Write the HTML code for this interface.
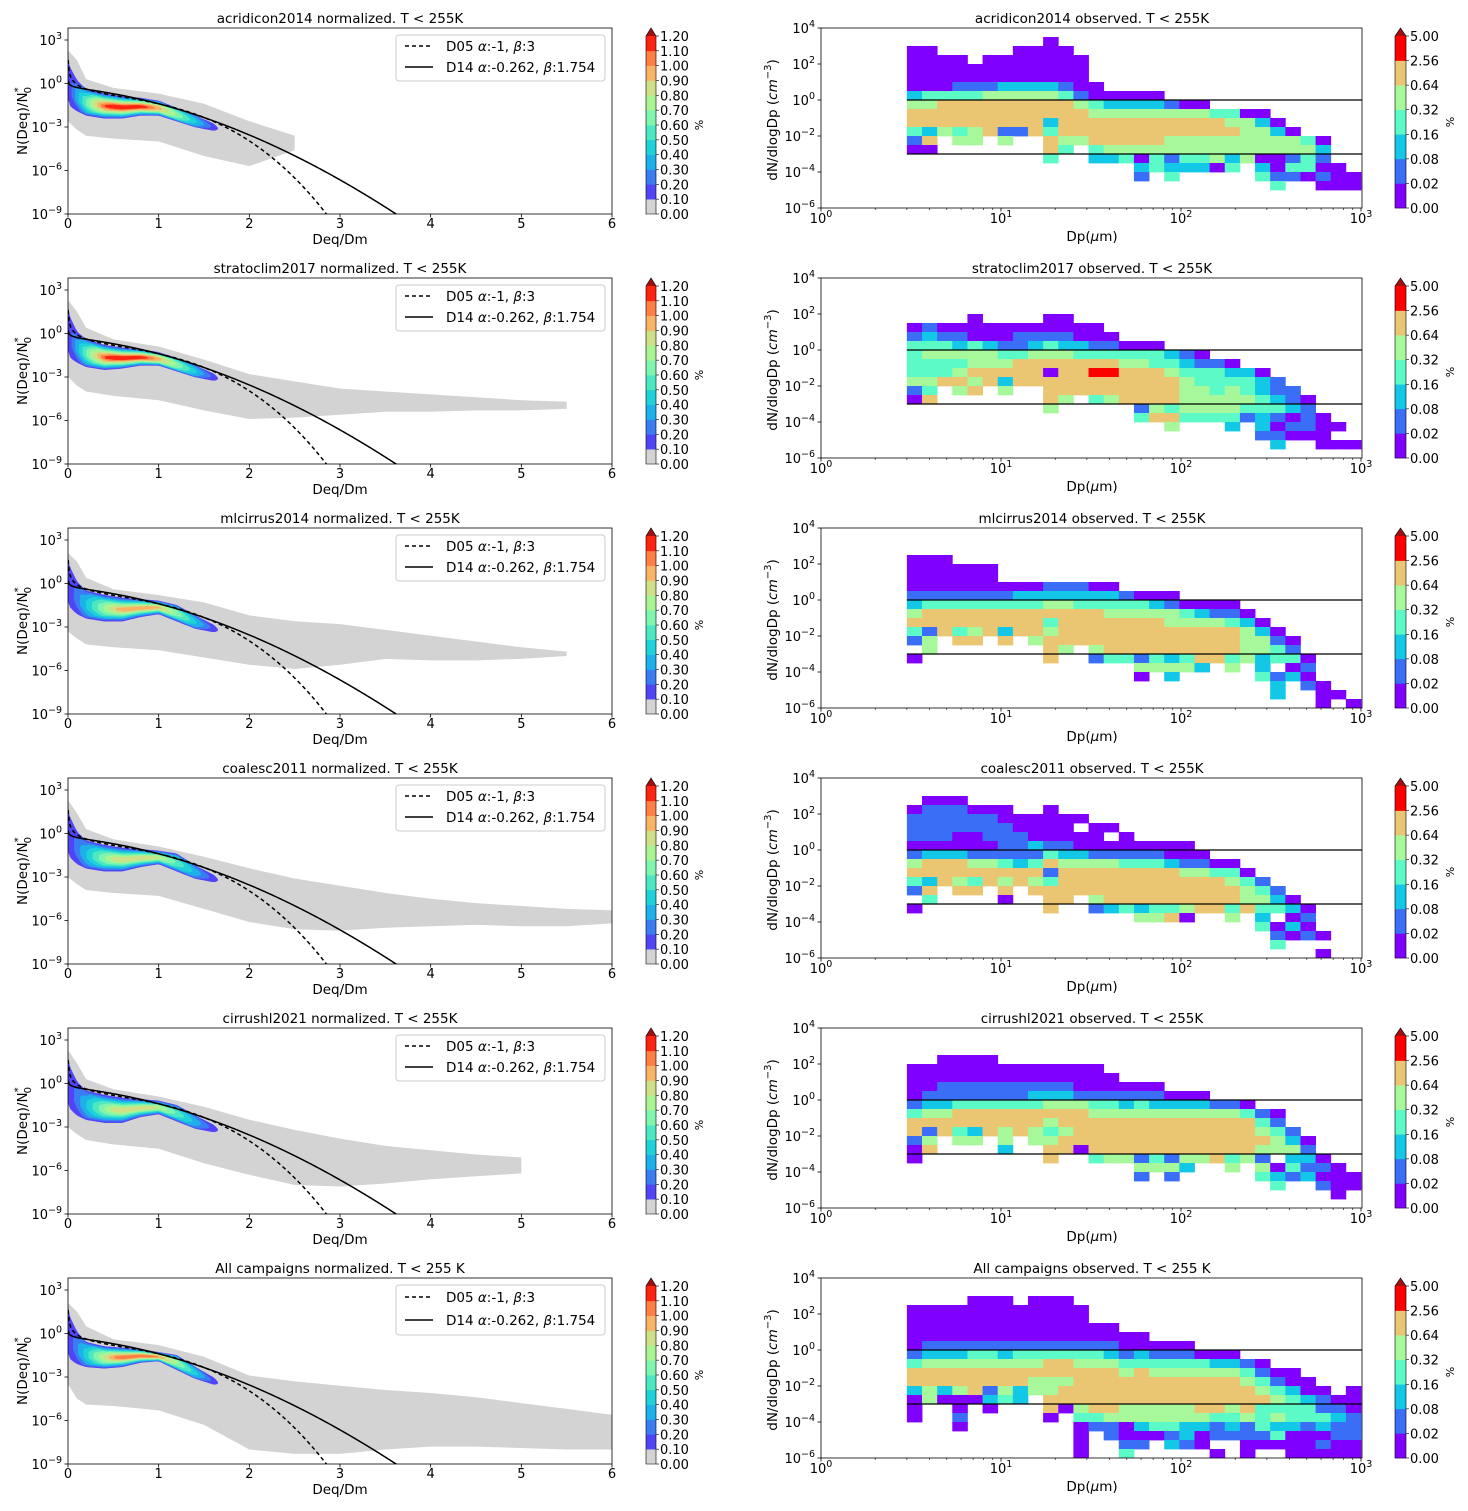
<!DOCTYPE html>
<html><head><meta charset="utf-8">
<style>
html,body{margin:0;padding:0;background:#fff;}
svg{display:block;font-family:"DejaVu Sans","Liberation Sans",sans-serif;}
</style></head>
<body>
<svg id="fig" width="1468" height="1511" viewBox="0 0 1468 1511" xmlns="http://www.w3.org/2000/svg"></svg>
<script>
// ---------- data ----------
const titlesL = ["acridicon2014 normalized. T < 255K","stratoclim2017 normalized. T < 255K","mlcirrus2014 normalized. T < 255K","coalesc2011 normalized. T < 255K","cirrushl2021 normalized. T < 255K","All campaigns normalized. T < 255 K"];
const titlesR = ["acridicon2014 observed. T < 255K","stratoclim2017 observed. T < 255K","mlcirrus2014 observed. T < 255K","coalesc2011 observed. T < 255K","cirrushl2021 observed. T < 255K","All campaigns observed. T < 255 K"];
const grayX = [0,0.1,0.2,0.5,1,1.5,2,2.5,3,3.5,4,4.5,5,5.5,6];
const grayUpper = [
 [2.3,1.6,0.3,-0.3,-0.7,-1.4,-2.6,-3.6],
 [2.3,1.5,0.4,-0.4,-0.9,-1.8,-2.8,-3.3,-3.8,-4.0,-4.2,-4.4,-4.6,-4.7],
 [2.1,1.5,0.4,-0.4,-0.8,-1.3,-2.2,-2.6,-2.8,-3.2,-3.6,-4.0,-4.4,-4.7],
 [2.3,1.4,0.3,-0.4,-0.9,-1.6,-2.4,-3.1,-3.6,-4.1,-4.5,-4.8,-5.0,-5.2,-5.3],
 [2.3,1.4,0.3,-0.4,-0.9,-1.6,-2.5,-3.2,-3.8,-4.3,-4.6,-4.9,-5.1],
 [2.1,1.5,0.5,-0.4,-0.8,-1.6,-2.9,-3.3,-3.6,-3.9,-4.1,-4.4,-4.8,-5.2,-5.6]];
const grayLower = [
 [-2.6,-3.2,-3.6,-3.8,-4.0,-5.0,-5.7,-4.6],
 [-3.0,-3.6,-4.0,-4.3,-4.6,-5.3,-5.9,-5.8,-5.6,-5.4,-5.4,-5.3,-5.3,-5.2],
 [-3.3,-3.8,-4.2,-4.4,-4.6,-5.1,-5.6,-5.9,-5.6,-5.2,-5.3,-5.3,-5.2,-5.0],
 [-3.0,-3.5,-3.9,-4.1,-4.3,-5.2,-6.1,-6.6,-6.7,-6.5,-6.4,-6.3,-6.4,-6.4,-6.2],
 [-3.0,-3.5,-3.9,-4.2,-4.5,-5.5,-6.3,-7.0,-7.1,-6.9,-6.6,-6.4,-6.2],
 [-3.5,-4.5,-4.9,-5.0,-5.3,-6.3,-8.0,-8.3,-8.3,-8.0,-7.8,-7.8,-7.9,-8.0,-8.0]];
const bandX = [0,0.03,0.1,0.2,0.4,0.6,0.8,1.0,1.2,1.4,1.65];
const bandUpper = [
 [1.5,1.0,0.2,-0.4,-0.7,-0.9,-1.0,-1.2,-1.7,-2.2,-2.9],
 [1.6,1.0,0.1,-0.4,-0.8,-1.0,-1.1,-1.3,-1.7,-2.2,-2.9],
 [1.5,1.0,0.1,-0.5,-0.8,-1.0,-1.1,-1.2,-1.5,-2.2,-3.0],
 [1.5,1.0,0.1,-0.5,-0.8,-1.0,-1.1,-1.2,-1.4,-2.2,-3.0],
 [1.6,1.0,0.1,-0.5,-0.8,-1.0,-1.1,-1.2,-1.5,-2.2,-3.0],
 [1.6,1.0,0.1,-0.6,-0.9,-1.0,-1.1,-1.3,-1.5,-2.3,-3.2]];
const bandLower = [
 [-1.0,-1.6,-1.9,-2.2,-2.4,-2.4,-2.2,-2.2,-2.6,-3.0,-3.3],
 [-1.1,-1.7,-2.0,-2.3,-2.5,-2.4,-2.2,-2.2,-2.6,-3.0,-3.3],
 [-1.2,-1.7,-2.1,-2.4,-2.6,-2.6,-2.3,-2.1,-2.6,-3.1,-3.4],
 [-1.2,-1.7,-2.1,-2.4,-2.6,-2.6,-2.3,-2.1,-2.6,-3.1,-3.4],
 [-1.3,-1.8,-2.2,-2.5,-2.7,-2.7,-2.3,-2.1,-2.6,-3.1,-3.4],
 [-1.3,-1.8,-2.1,-2.3,-2.4,-2.3,-2.0,-1.9,-2.5,-3.1,-3.6]];
const bandLevels = [11,11,9,8,8,10];
const bandPeakX = [0.6,0.6,0.75,0.7,0.7,0.72];
const d05 = {alpha:-1, beta:3, lnA:-2.48, cb:0.743};
const d14 = {alpha:-0.262, beta:1.754, lnA:-1.21, cb:2.01};

const D = n=>".".repeat(n);
const grids = [
[ "", D(9)+"p", "pp.....pppp", "pppp.ppppppp", "pppppppppppp", "pppppppppppp", "pppbbbccccbpp",
  "cttttgggggtbppppp", "ggooooooooogtccccbpp", "oooooooooooo"+"gggggggg"+"ttpp",
  "ooooooooo"+"c"+"ooooooooooo"+"gg"+"c"+"p", "tcgtgobbot"+"oooooooooooo"+"gg"+"cp",
  "bo.gg.g..ogg"+"ooooo"+"ggggggggg"+"tp", "pp.......o"+"t.t"+"gggggggggggggg"+"c",
  D(9)+"t.."+"cctptbttgcgppbtb", D(15)+"ctccc"+"pt.cptt"+"pp", D(15)+"b.t....."+"tbbpbpp", D(24)+"t..ppp", "", "" ],
[ "", "", "", "", "....p....pp", "pb"+"ppppppppppp", "bcbbppp"+"bbbb"+"ppp",
  "ttt"+"c"+"t"+"c"+"bb"+"c"+"t"+"cc"+"bb"+"ppp", "t"+"ggggg"+"tt"+"ggg"+"tttttt"+"c"+"b"+"p",
  "tttt"+"ggg"+"ooooooo"+"gg"+"tt"+"c"+"bb"+"p", "ttt"+"g"+"ooooo"+"p"+"oo"+"rr"+"ooo"+"g"+"ttt"+"cc"+"p",
  "gg"+"oo"+"g"+"o"+"c"+"ooooooooooo"+"g"+"tttt"+"c"+"b", "bt.go.g.."+"ooooooooo"+"gg"+"t"+"g"+"t"+"c"+"bb",
  "po......."+"og.tg"+"oooo"+"ggggg"+"tcbp", D(9)+"g....."+"bgt"+"gggg"+"ttt"+"cb",
  D(15)+"too"+"tttt"+"bcbpbp", D(17)+"g...c.cpbbpp", D(23)+"bbppp", D(24)+"c..ppp", "" ],
[ "", "", "", "ppp", "pppppp", "pppppp", "ppppppppp"+"bbb"+"pp", "bbbbbbb"+"ccccccc"+"b"+"ppp",
  "c"+"tttttttt"+"gg"+"ttttt"+"c"+"b"+"pppp", "g"+"oooooooooooo"+"ggggg"+"t"+"c"+"bb"+"p",
  "ooooooooo"+"t"+"ooooooo"+"gggg"+"t"+"c"+"p", "tbotgocoo"+"g"+"oooooooooooo"+"g"+"c"+"p",
  "bg.oo.o.g"+"ooooooooooooo"+"gg"+"bp", ".g......."+"og.g"+"ooooooooo"+"gg"+"tb",
  "p........"+"o.."+"bttbtctoo"+"tgcttp", D(15)+"ggggc.g.c.pb", D(15)+"p.c.....tbcp", D(24)+"c.bp", D(24)+"c..pp", D(27)+"p.p" ],
[ "", "", ".ppp", "pbbbppp..p", "bbbbbb"+"pppppp", "bbbbbbb"+"pppp"+"."+"pp", "bbbppbbb"+"ppppp"+".p",
  "pppppp"+"bb"+"c"+"bb"+"pppppppp", "b"+"ccc"+"bbbbb"+"t"+"cc"+"bbbbb"+"ppp",
  "g"+"ooo"+"gg"+"t"+"c"+"t"+"o"+"gggg"+"ttt"+"c"+"bb"+"pp", "ooooooooo"+"b"+"oooooooo"+"gg"+"tt"+"p",
  "tcogtogogt"+"ooooooooooo"+"g"+"t"+"b", "bo.oo.o."+"oooooooooooooo"+"g"+"t"+"b",
  ".t....p.."+"oo"+"."+"g"+"ooooooooo"+"gg"+"c"+"p", "p........"+"o.."+"bctcttgootottcp",
  D(15)+"ggop..g.c.pb", D(23)+"tpcp", D(24)+"bpbp", D(24)+"t", D(27)+"p" ],
[ "", "", "", "..pppp", "ppppppppppppp", "pppppppppppppp", "pp"+"bbbbbbbbb"+"pppppp",
  "p"+"bbbbbbb"+"ccc"+"bbbbbb"+"ppp", "b"+"cc"+"tttttt"+"ggg"+"tt"+"c"+"t"+"cccc"+"bb"+"p",
  "t"+"gg"+"ooooooooo"+"gggggggggg"+"t"+"b"+"p", "ooooooooo"+"g"+"ooooooooooooo"+"t"+"b",
  "obotcogogtg"+"oooooooooooo"+"g"+"t"+"b", "bg.gg.g.gg"+"oooooooooooooo"+"g"+"c"+"p",
  "po....c.."+"oo"+"p"+"ooooooooooo"+"ggg"+"b", "p........"+"o.."+"tggbtbggotgb.ccp",
  D(15)+"gggc..g.gptbbp", D(15)+"b.b.....tcbcppp", D(24)+"t..bpp", D(28)+"p", "" ],
[ "", "", "....ppp.ppp", "pppppppppppp", "pppppppppppp", "pppppppppppppp", "pppppppppppppppp",
  "p"+"bbbbbbbbbbbbb"+"ppppp", "bccc"+"tt"+"c"+"tttttt"+"c"+"b"+"c"+"bbb"+"ppp",
  "t"+"gggggggg"+"oo"+"ggg"+"tttttt"+"cc"+"b"+"p", "oooooooooooooo"+"g"+"o"+"gggggg"+"t"+"b"+"pp",
  "oooooooo"+"ggg"+"ooooooooooo"+"g"+"t"+"b"+"pp", "cgcgobgcgg"+"ooooooooooooo"+"g"+"t"+"c"+"pp"+".p",
  "pgpppctc."+"ooooooooooooooo"+"g"+"t"+"c"+"b"+"pp", "p..p.p..."+"o"+"p"+"g"+"oo"+"ggggg"+"oo"+"g"+"o"+"tttt"+"bb"+"p",
  "p..b.....p."+"tt"+"ggggggg"+"tt"+"g"+"t"+"g"+"ttt"+"c"+"b", "...p......."+"pbbpcttccbcbtccbcbb",
  "..........."+"p.bpppbcpbbbbtpppbb", "..........."+"p..bb.cbp..pppppbpp", "..........."+"p..t.....p.p..ppppp" ]
];
const cbLeftTicks = ["0.00","0.10","0.20","0.30","0.40","0.50","0.60","0.70","0.80","0.90","1.00","1.10","1.20"];
const cbRightTicks = ["0.00","0.02","0.08","0.16","0.32","0.64","2.56","5.00"];
const xTicksL = [0,1,2,3,4,5,6];
const yTicksL = [3,0,-3,-6,-9];
const xTicksR = [0,1,2,3];
const yTicksR = [4,2,0,-2,-4,-6];

// ---------- styles ----------
const cmapL = ["#d3d3d3","#5044f6","#3a7cf2","#1eb0ea","#1fd1d8","#4de8c2","#7ff5ae","#a8f592","#cfe087","#f8b464","#ff7f45","#ff2412"];
const cmapR = {p:"#8000ff", b:"#3a6ef6", c:"#12c8e6", t:"#5cfac6", g:"#a6f89a", o:"#ebc672", r:"#ff0000"};
const cmapRList = ["#8000ff","#3a6ef6","#12c8e6","#5cfac6","#a6f89a","#ebc672","#ff0000"];

const NS="http://www.w3.org/2000/svg";
const svg=document.getElementById('fig');
function mk(tag, attrs, parent){const e=document.createElementNS(NS,tag);for(const k in attrs)e.setAttribute(k,attrs[k]);(parent||svg).appendChild(e);return e;}
function interp(xs,ys,x){
  if(x<=xs[0])return ys[0];
  for(let i=1;i<xs.length;i++){if(x<=xs[i]){const t=(x-xs[i-1])/(xs[i]-xs[i-1]);return ys[i-1]+t*(ys[i]-ys[i-1]);}}
  return ys[ys.length-1];
}
function powText(parent,x,y,exp,anchor){
  const t=mk('text',{x:x,y:y,'font-size':13,'text-anchor':anchor,fill:'#000'},parent);
  t.appendChild(document.createTextNode('10'));
  const s=mk('tspan',{dy:-6,'font-size':9.5},t);
  s.textContent=String(exp).replace('-','\u2212');
  return t;
}
const defs=mk('defs',{});

for(let p=0;p<6;p++){
  const o=p*250;
  // ===== LEFT PANEL =====
  const gL=mk('g',{});
  
  
  const X=v=>68+v*544/6, Y=l=>o+40+(3-l)*14.5;
  const cp=mk('clipPath',{id:'cl'+p},defs);
  mk('rect',{x:68,y:o+28,width:544,height:186},cp);
  const inner=mk('g',{'clip-path':'url(#cl'+p+')'},gL);
  // gray region
  const gu=grayUpper[p], gl=grayLower[p];
  let pts=[];
  for(let i=0;i<gu.length;i++)pts.push(X(grayX[i])+','+Y(gu[i]));
  for(let i=gl.length-1;i>=0;i--)pts.push(X(grayX[i])+','+Y(gl[i]));
  const gr=mk('polygon',{points:pts.join(' '),fill:'#d3d3d3'},inner);
  
  
  // colored contour bands
  const bu=bandUpper[p], bl=bandLower[p], nL=bandLevels[p], px=bandPeakX[p];
  const xEndMax=bandX[bandX.length-1];
  for(let lv=1;lv<=nL;lv++){
    const t=(lv-1)/nL;
    const f=1-t*0.92;
    const xs0=0+t*(px-0.15), xe=xEndMax-t*(xEndMax-px-0.2);
    let up=[],dn=[];
    const N=60;
    for(let k=0;k<=N;k++){
      const x=xs0+(xe-xs0)*k/N;
      const u=interp(bandX,bu,x), l=interp(bandX,bl,x), m=(u+l)/2;
      const e=Math.min(1,(x-xs0)/0.12+0.15,(xe-x)/0.12+0.05);
      const tap=lv===1?Math.min(1,(xe-x)/0.05+0.3):Math.sqrt(Math.max(0,e));
      const h=(u-m)*f*(xs0===0&&k===0?1:tap);
      up.push(X(x).toFixed(1)+','+Y(m+h).toFixed(1));
      dn.push(X(x).toFixed(1)+','+Y(m-h).toFixed(1));
    }
    const poly=mk('polygon',{points:up.concat(dn.reverse()).join(' '),fill:cmapL[lv],stroke:cmapL[lv],'stroke-width':0.5},inner);
    
    
  }
  // model curves
  [[d05,'4,3','d05-curve'],[d14,'','d14-curve']].forEach(([m,dash,nm])=>{
    let d='';
    for(let i=0;i<=600;i++){const x=0.002+i*0.01;
      const lnF=m.lnA+m.alpha*Math.log(x)-m.cb*Math.pow(x,m.beta);
      const l=Math.max(-12,Math.min(6,lnF/Math.LN10));
      d+=(i?'L':'M')+X(x).toFixed(2)+','+Y(l).toFixed(2);}
    const path=mk('path',{d:d,fill:'none',stroke:'#000','stroke-width':1.5,'stroke-dasharray':dash},inner);
    
    
  });
  const fr=mk('rect',{x:68,y:o+28,width:544,height:186,fill:'none',stroke:'#000','stroke-width':0.8},gL);
  
  
  xTicksL.forEach(v=>{
    mk('line',{x1:X(v),x2:X(v),y1:o+214,y2:o+217.5,stroke:'#000','stroke-width':0.8},gL);
    const t=mk('text',{x:X(v),y:o+228,'font-size':13,'text-anchor':'middle'},gL);
    t.textContent=v;
    
    
  });
  yTicksL.forEach(v=>{
    mk('line',{x1:64.5,x2:68,y1:Y(v),y2:Y(v),stroke:'#000','stroke-width':0.8},gL);
    const t=powText(gL,62,Y(v)+5,v,'end');
    
    
  });
  const xl=mk('text',{x:340,y:o+244,'font-size':13.5,'text-anchor':'middle'},gL);
  xl.textContent='Deq/Dm';
  
  
  const yl=mk('text',{x:0,y:0,'font-size':13.5,'text-anchor':'middle',transform:'translate(27,'+(o+121)+') rotate(-90)'},gL);
  yl.appendChild(document.createTextNode('N(Deq)/N'));
  const ys1=mk('tspan',{dy:-6,'font-size':10},yl);ys1.textContent='*';
  const ys2=mk('tspan',{dy:10,dx:-6,'font-size':10},yl);ys2.textContent='0';
  
  
  const tl=mk('text',{x:340,y:o+23,'font-size':13.5,'text-anchor':'middle'},gL);
  tl.textContent=titlesL[p];
  
  
  const lg=mk('g',{},gL);
  
  
  const lh = p===5?50:46;
  mk('rect',{x:396,y:o+35,width:209,height:lh,rx:3,fill:'#fff','fill-opacity':0.8,stroke:'#ccc','stroke-width':1},lg);
  const ly1=o+46+(p===5?1:0), ly2=o+67+(p===5?3:0);
  mk('line',{x1:405,x2:433,y1:ly1,y2:ly1,stroke:'#000','stroke-width':1.5,'stroke-dasharray':'4,3'},lg);
  mk('line',{x1:405,x2:433,y1:ly2,y2:ly2,stroke:'#000','stroke-width':1.5},lg);
  const e1=mk('text',{x:446,y:ly1+5,'font-size':13.5},lg);
  e1.innerHTML='D05 <tspan font-style="italic">\u03b1</tspan>:-1, <tspan font-style="italic">\u03b2</tspan>:3';
  
  
  const e2=mk('text',{x:446,y:ly2+5,'font-size':13.5},lg);
  e2.innerHTML='D14 <tspan font-style="italic">\u03b1</tspan>:-0.262, <tspan font-style="italic">\u03b2</tspan>:1.754';
  
  
  const cbl=mk('g',{},gL);
  
  
  const sh=(214-36)/12;
  for(let i=0;i<12;i++){
    const r=mk('rect',{x:646,y:o+214-(i+1)*sh,width:10,height:sh+0.3,fill:cmapL[i]},cbl);
    
    
  }
  mk('polygon',{points:`646,${o+36} 656,${o+36} 651,${o+28}`,fill:'#a01010'},cbl);
  mk('polygon',{points:`646,${o+214} 646,${o+36} 651,${o+28} 656,${o+36} 656,${o+214}`,fill:'none',stroke:'#000','stroke-width':0.6},cbl);
  cbLeftTicks.forEach((s,i)=>{
    const y=o+214-i*sh;
    mk('line',{x1:656,x2:659,y1:y,y2:y,stroke:'#000','stroke-width':0.6},cbl);
    const t=mk('text',{x:660,y:y+5,'font-size':13},cbl);
    t.textContent=s;
    
    
  });
  const pc=mk('text',{x:0,y:0,'font-size':11,'text-anchor':'middle',transform:`translate(695,${o+125}) rotate(90)`},cbl);
  pc.textContent='%';
  
  

  // ===== RIGHT PANEL =====
  const gR=mk('g',{});
  
  
  const XR=l=>821+l*180, YR=l=>o+28+(4-l)*18;
  const cr=mk('clipPath',{id:'cr'+p},defs);
  mk('rect',{x:821,y:o+28,width:541,height:180},cr);
  const innerR=mk('g',{'clip-path':'url(#cr'+p+')'},gR);
  const lx0=Math.log10(3), step=(3-lx0)/30;
  grids[p].forEach((row,r)=>{
    for(let c=0;c<row.length&&c<30;c++){
      const ch=row[c]; if(!cmapR[ch])continue;
      const x0=XR(lx0+c*step), x1=XR(lx0+(c+1)*step);
      const y0=YR(4-0.5*r), y1=YR(4-0.5*(r+1));
      const cell=mk('rect',{x:x0,y:y0,width:x1-x0+0.4,height:y1-y0+0.4,fill:cmapR[ch]},innerR);
      
      
    }
  });
  [0,-3].forEach(l=>{
    const hl=mk('line',{x1:XR(lx0),x2:1362,y1:YR(l),y2:YR(l),stroke:'#000','stroke-width':1.3},innerR);
    
    
  });
  const frR=mk('rect',{x:821,y:o+28,width:541,height:180,fill:'none',stroke:'#000','stroke-width':0.8},gR);
  
  
  xTicksR.forEach(v=>{
    mk('line',{x1:XR(v),x2:XR(v),y1:o+208,y2:o+211.5,stroke:'#000','stroke-width':0.8},gR);
    const t=powText(gR,XR(v),o+223,v,'middle');
    
    
    if(v<3)for(let m=2;m<10;m++){const xx=XR(v+Math.log10(m));mk('line',{x1:xx,x2:xx,y1:o+208,y2:o+210,stroke:'#000','stroke-width':0.6},gR);}
  });
  yTicksR.forEach(v=>{
    mk('line',{x1:817.5,x2:821,y1:YR(v),y2:YR(v),stroke:'#000','stroke-width':0.8},gR);
    const t=powText(gR,815,YR(v)+5,v,'end');
    
    
  });
  const xlr=mk('text',{x:1092,y:o+241,'font-size':13.5,'text-anchor':'middle'},gR);
  xlr.innerHTML='Dp(<tspan font-style="italic">\u03bc</tspan>m)';
  
  
  const ylr=mk('text',{x:0,y:0,'font-size':13.5,'text-anchor':'middle',transform:`translate(777,${o+120}) rotate(-90)`},gR);
  ylr.innerHTML='dN/dlogDp (<tspan font-style="italic">cm</tspan><tspan dy="-6" font-size="10">\u22123</tspan><tspan dy="6">)</tspan>';
  
  
  const tr=mk('text',{x:1092,y:o+23,'font-size':13.5,'text-anchor':'middle'},gR);
  tr.textContent=titlesR[p];
  
  
  const cbr=mk('g',{},gR);
  
  
  const shr=(208-36)/7;
  for(let i=0;i<7;i++){
    const r=mk('rect',{x:1395,y:o+208-(i+1)*shr,width:11,height:shr+0.3,fill:cmapRList[i]},cbr);
    
    
  }
  mk('polygon',{points:`1395,${o+36} 1406,${o+36} 1400.5,${o+28}`,fill:'#a01010'},cbr);
  mk('polygon',{points:`1395,${o+208} 1395,${o+36} 1400.5,${o+28} 1406,${o+36} 1406,${o+208}`,fill:'none',stroke:'#000','stroke-width':0.6},cbr);
  cbRightTicks.forEach((s,i)=>{
    const y=o+208-i*shr;
    mk('line',{x1:1406,x2:1409,y1:y,y2:y,stroke:'#000','stroke-width':0.6},cbr);
    const t=mk('text',{x:1410,y:y+5,'font-size':13},cbr);
    t.textContent=s;
    
    
  });
  const pr=mk('text',{x:0,y:0,'font-size':11,'text-anchor':'middle',transform:`translate(1446,${o+122}) rotate(90)`},cbr);
  pr.textContent='%';
  
  
}
</script>
</body></html>
